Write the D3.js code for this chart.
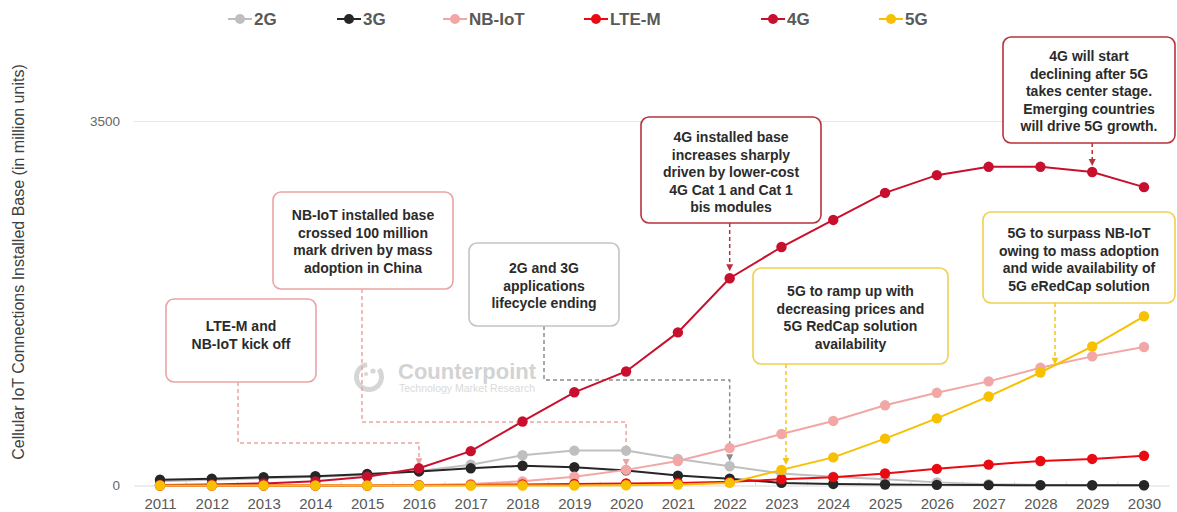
<!DOCTYPE html>
<html>
<head>
<meta charset="utf-8">
<script src="https://cdn.jsdelivr.net/npm/d3@7"></script>
<style>
  body { margin: 0; background: #fff; }
  text { font-family: "Liberation Sans", Arial, sans-serif; }
</style>
</head>
<body>
<svg id="chart" width="1177" height="512"></svg>
<script>
// data (million units)
var years = [2011, 2012, 2013, 2014, 2015, 2016, 2017, 2018, 2019, 2020,
             2021, 2022, 2023, 2024, 2025, 2026, 2027, 2028, 2029, 2030];
var series_2g    = [40, 55, 70, 85, 100, 140, 200, 290, 335, 335, 255, 185, 115, 85, 60, 30, 12, 6, 3, 2];
var series_3g    = [55, 65, 80, 90, 110, 135, 165, 190, 175, 145, 95, 65, 25, 15, 10, 6, 4, 3, 2, 2];
var series_nbiot = [0, 0, 0, 0, 0, 5, 15, 40, 85, 150, 235, 360, 495, 620, 770, 890, 1000, 1130, 1240, 1330];
var series_ltem  = [0, 0, 0, 0, 0, 2, 5, 10, 15, 20, 25, 35, 60, 80, 115, 160, 200, 235, 255, 285];
var series_4g    = [5, 10, 20, 40, 85, 165, 330, 615, 895, 1095, 1470, 1990, 2290, 2550, 2810, 2980, 3060, 3060, 3010, 2865];
var series_5g    = [0, 0, 0, 0, 0, 0, 0, 0, 0, 2, 10, 25, 150, 270, 450, 645, 855, 1085, 1335, 1625];

var seriesNames  = ["2G", "3G", "NB-IoT", "LTE-M", "4G", "5G"];
var seriesValues = [series_2g, series_3g, series_nbiot, series_ltem, series_4g, series_5g];
var seriesColors = ["#bfbfbf", "#262626", "#f2a6a6", "#ea0a12", "#c8102e", "#f7c000"];

var yTickValues = [0, 3500];
var yTitle = "Cellular IoT Connections Installed Base (in million units)";

var note_ltem   = ["LTE-M and", "NB-IoT kick off"];
var note_nbiot  = ["NB-IoT installed base", "crossed 100 million", "mark driven by mass", "adoption in China"];
var note_2g3g   = ["2G and 3G", "applications", "lifecycle ending"];
var note_4g     = ["4G installed base", "increases sharply", "driven by lower-cost", "4G Cat 1 and Cat 1", "bis modules"];
var note_4gdrop = ["4G will start", "declining after 5G", "takes center stage.", "Emerging countries", "will drive 5G growth."];
var note_5gramp = ["5G to ramp up with", "decreasing prices and", "5G RedCap solution", "availability"];
var note_5gpass = ["5G to surpass NB-IoT", "owing to mass adoption", "and wide availability of", "5G eRedCap solution"];

var svg = d3.select("#chart");

var xScale = d3.scaleLinear()
    .domain([2011, 2030])
    .range([160, 1144]);

var yScale = d3.scaleLinear()
    .domain([0, 3500])
    .range([485.5, 121]);

var plotLeft = 134, plotRight = 1170;

// y axis with the single gridline
var yAxis = svg.append("g")
    .attr("class", "y-axis")
    .attr("transform", "translate(" + plotLeft + ",0)")
    .call(d3.axisLeft(yScale)
        .tickValues(yTickValues)
        .tickSize(-(plotRight - plotLeft))
        .tickPadding(14)
        .tickFormat(d3.format("d")));
yAxis.select(".domain").remove();
yAxis.selectAll(".tick line")
    .attr("stroke", function(d) { return d === 0 ? "#d9d9d9" : "#e6e6e6"; })
    .attr("stroke-width", 1);
yAxis.selectAll(".tick text")
    .style("font-size", "13.5px")
    .attr("fill", "#666");

// x axis
var xAxis = svg.append("g")
    .attr("class", "x-axis")
    .attr("transform", "translate(0," + yScale(0) + ")")
    .call(d3.axisBottom(xScale)
        .tickValues(years)
        .tickSize(0)
        .tickPadding(13)
        .tickFormat(d3.format("d")));
xAxis.select(".domain").remove();
xAxis.selectAll(".tick text")
    .style("font-size", "15px")
    .attr("fill", "#595959");

// small category separators on the axis line
svg.append("g")
    .selectAll("line")
    .data(years.slice(1))
    .enter()
    .append("line")
    .attr("x1", function(d) { return xScale(d - 0.5); })
    .attr("x2", function(d) { return xScale(d - 0.5); })
    .attr("y1", yScale(0) - 4)
    .attr("y2", yScale(0))
    .attr("stroke", "#d9d9d9");

// y axis title
svg.append("text")
    .attr("transform", "translate(18,262) rotate(-90)")
    .attr("dy", "0.35em")
    .style("text-anchor", "middle")
    .style("font-size", "16px")
    .attr("fill", "#404040")
    .text(yTitle);

// watermark
var wm = svg.append("g").attr("class", "watermark");
wm.append("path")
    .attr("d", d3.arc().innerRadius(10).outerRadius(15).startAngle(0.9).endAngle(2 * Math.PI - 0.15)())
    .attr("transform", "translate(369,377)")
    .attr("fill", "#d6d6d6");
wm.append("circle").attr("cx", 373).attr("cy", 371).attr("r", 2.6).attr("fill", "#d6d6d6");
wm.append("circle").attr("cx", 366).attr("cy", 374).attr("r", 2).attr("fill", "#d6d6d6");
wm.append("text")
    .attr("x", 398).attr("y", 379)
    .style("font-size", "22px").style("font-weight", "bold")
    .attr("fill", "#d3d3d3")
    .text("Counterpoint");
wm.append("text")
    .attr("x", 399).attr("y", 392)
    .style("font-size", "10.5px")
    .attr("fill", "#dadada")
    .text("Technology Market Research");

// annotations: box + dashed connector ending in an arrow
var notes = [
    { lines: note_ltem, x0: 166, y0: 299, x1: 316, y1: 382, ty: 326, color: "#eaa4a4",
      path: [[238, 382], [238, 443], [xScale(2016), 443]], end: [xScale(2016), yScale(series_4g[5]) - 3] },
    { lines: note_nbiot, x0: 273, y0: 192, x1: 453, y1: 289, ty: 215, color: "#eaa4a4",
      path: [[362, 289], [362, 422], [xScale(2020), 422]], end: [xScale(2020), yScale(series_nbiot[9]) - 4] },
    { lines: note_2g3g, x0: 469, y0: 243, x1: 619, y1: 326, ty: 268, color: "#c4c4c4", lineColor: "#8c8c8c",
      path: [[544, 326], [544, 380], [xScale(2022), 380]], end: [xScale(2022), yScale(series_2g[11]) - 5] },
    { lines: note_4g, x0: 641, y0: 117, x1: 821, y1: 223, ty: 137, color: "#b8323d",
      path: [[xScale(2022), 223]], end: [xScale(2022), yScale(series_4g[11]) - 7] },
    { lines: note_4gdrop, x0: 1003, y0: 37, x1: 1175, y1: 143, ty: 56, color: "#b8323d",
      path: [[xScale(2029), 143]], end: [xScale(2029), yScale(series_4g[18]) - 6] },
    { lines: note_5gramp, x0: 753, y0: 268, x1: 948, y1: 364, ty: 291, color: "#f0d050", lineColor: "#f5c518",
      path: [[786, 364]], end: [786, yScale(series_5g[12]) - 5] },
    { lines: note_5gpass, x0: 983, y0: 212, x1: 1175, y1: 303, ty: 233, color: "#f0d050", lineColor: "#f5c518",
      path: [[1055, 303]], end: [1055, yScale(1160)] }
];

var noteLayer = svg.append("g").attr("class", "notes");

notes.forEach(function(n) {
    var lc = n.lineColor || n.color;
    var pts = n.path.concat([[n.end[0], n.end[1] - 6]]);
    noteLayer.append("path")
        .attr("d", d3.line()(pts))
        .attr("fill", "none")
        .attr("stroke", lc)
        .attr("stroke-width", 1.5)
        .attr("stroke-dasharray", "4,3");
    noteLayer.append("path")
        .attr("d", "M" + (n.end[0] - 3.5) + "," + (n.end[1] - 7) +
                   "L" + (n.end[0] + 3.5) + "," + (n.end[1] - 7) +
                   "L" + n.end[0] + "," + n.end[1] + "Z")
        .attr("fill", lc);

    noteLayer.append("rect")
        .attr("x", n.x0).attr("y", n.y0)
        .attr("width", n.x1 - n.x0).attr("height", n.y1 - n.y0)
        .attr("rx", 8).attr("ry", 8)
        .attr("fill", "#fff")
        .attr("stroke", n.color)
        .attr("stroke-width", 1.6);

    noteLayer.append("g")
        .selectAll("text")
        .data(n.lines)
        .enter()
        .append("text")
        .attr("x", (n.x0 + n.x1) / 2)
        .attr("y", function(d, i) { return n.ty + i * 17.6; })
        .attr("dy", "0.35em")
        .style("text-anchor", "middle")
        .style("font-size", "14px")
        .style("font-weight", "bold")
        .attr("fill", "#2b2b2b")
        .text(function(d) { return d; });
});

// series
var line = d3.line()
    .x(function(d, i) { return xScale(years[i]); })
    .y(function(d) { return yScale(d); });

var seriesLayer = svg.append("g").attr("class", "series");

seriesValues.forEach(function(vals, k) {
    var g = seriesLayer.append("g");
    g.append("path")
        .datum(vals)
        .attr("d", line)
        .attr("fill", "none")
        .attr("stroke", seriesColors[k])
        .attr("stroke-width", 2);
    g.selectAll("circle")
        .data(vals)
        .enter()
        .append("circle")
        .attr("cx", function(d, i) { return xScale(years[i]); })
        .attr("cy", function(d) { return yScale(d); })
        .attr("r", 5.2)
        .attr("fill", seriesColors[k]);
});

// legend
var legendX = [240, 349, 455, 596, 773, 891];
var legend = svg.append("g").attr("class", "legend");
seriesNames.forEach(function(name, k) {
    var item = legend.append("g").attr("transform", "translate(" + legendX[k] + ",19)");
    item.append("line")
        .attr("x1", -12).attr("x2", 12)
        .attr("stroke", seriesColors[k])
        .attr("stroke-width", 2);
    item.append("circle")
        .attr("r", 5)
        .attr("fill", seriesColors[k]);
    item.append("text")
        .attr("x", 14)
        .attr("dy", "0.36em")
        .style("font-size", "17px")
        .style("font-weight", "bold")
        .attr("fill", "#595959")
        .text(name);
});
</script>
</body>
</html>
